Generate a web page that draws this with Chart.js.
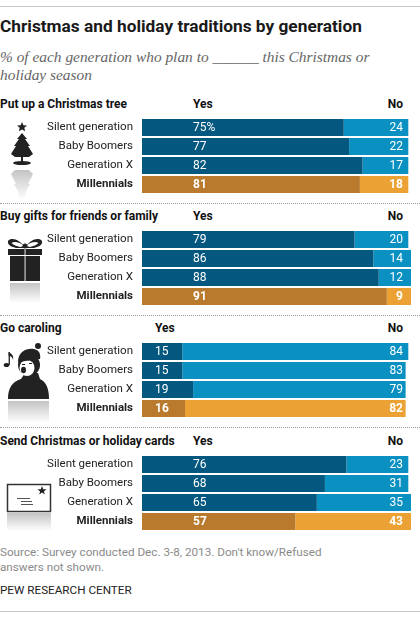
<!DOCTYPE html>
<html>
<head>
<meta charset="utf-8">
<script src="https://cdn.jsdelivr.net/npm/chart.js@4.4.1/dist/chart.umd.min.js"></script>
<style>
  body { margin: 0; background: #fff; }
  #page { position: relative; width: 420px; height: 618px; overflow: hidden; font-family: Roboto, "Liberation Sans", sans-serif; color: #222; }
  .abs { position: absolute; white-space: nowrap; }
  .title { left: 0; top: 16px; font-size: 17.3px; font-weight: bold; color: #1a1a1a; }
  .sub { left: 0; font-family: "Liberation Serif", serif; font-style: italic; font-size: 15.4px; color: #666; }
  .head { left: 0; font-size: 12px; font-weight: bold; color: #111; }
  .yn { font-size: 12px; font-weight: bold; color: #111; }
  .rule { position: absolute; left: 0; width: 420px; height: 0; }
  .dots { border-top: 1px dotted #9a9a9a; }
  .solid { border-top: 1px solid #c8c8c8; }
  .note { left: 0; font-size: 11.7px; color: #8a8a8a; }
  canvas { position: absolute; left: 0; }
  svg { position: absolute; left: 0; top: 0; }
</style>
</head>
<body>
<div id="page">
  <div class="rule solid" style="top:6px"></div>
  <div class="abs title">Christmas and holiday traditions by generation</div>
  <div class="abs sub" style="top:48px">% of each generation who plan to ______ this Christmas or</div>
  <div class="abs sub" style="top:66px">holiday season</div>

  <svg width="60" height="618" viewBox="0 0 60 618">
    <defs>
      <linearGradient id="fade" x1="0" y1="0" x2="0" y2="1">
        <stop offset="0" stop-color="#c4c4c4"/>
        <stop offset="1" stop-color="#ffffff"/>
      </linearGradient>
    </defs>
    <!-- tree -->
    <polygon fill="#222" points="22,122 23.4,125.2 27,125.5 24.3,127.8 25.1,131.3 22,129.5 18.9,131.3 19.7,127.8 17,125.5 20.6,125.2"/>
    <path fill="#222" d="M22,133 L27,139 L25,139 L30,146 L28,146 L33,154 L29,157 L15,157 L11,154 L16,146 L14,146 L19,139 L17,139 Z"/>
    <rect fill="#222" x="21" y="156" width="2" height="6"/>
    <ellipse fill="#222" cx="22" cy="163" rx="9" ry="2"/>
    <path fill="url(#fade)" d="M22,200 L27,193 L25,193 L30,184 L28,184 L33,174 L29,170 L15,170 L11,174 L16,184 L14,184 L19,193 L17,193 Z"/>
    <!-- gift -->
    <path fill="#222" d="M25,248 C20,239 11,237 8,241 C7,245 12,247 16,248 Z M25,248 C30,239 39,237 42,241 C43,245 38,247 34,248 Z"/>
    <path fill="#fff" d="M24,246 C20,242 14,241 11.5,243 C13,245 17,246 20,247 Z M26,246 C30,242 36,241 38.5,243 C37,245 33,246 30,247 Z"/>
    <circle fill="#222" cx="25" cy="246" r="2.5"/>
    <rect fill="#222" x="8" y="249" width="34" height="6"/>
    <rect fill="#222" x="10" y="256" width="30" height="25"/>
    <rect fill="#fff" x="24.6" y="249" width="0.9" height="32"/>
    <rect fill="url(#fade)" x="10" y="283" width="30" height="20"/>
    <!-- caroler -->
    <ellipse fill="#222" cx="6.5" cy="365" rx="2.8" ry="2.1"/>
    <rect fill="#222" x="8.6" y="352" width="1.3" height="13"/>
    <path fill="#222" d="M8.6,352 C12,354 14,356 13,360 C12.5,357 11,356 8.6,356 Z"/>
    <path fill="#222" d="M8,399 C8,388 12,382 21,379 L25,373 L38,373 L40,379 C46,382 49,388 49,399 Z"/>
    <circle fill="#222" cx="29" cy="365" r="11"/>
    <ellipse fill="#fff" cx="27" cy="368" rx="7.5" ry="8"/>
    <ellipse fill="#222" cx="23.5" cy="370" rx="2.5" ry="3.2"/>
    <rect fill="#222" x="22" y="364" width="3" height="1"/>
    <rect fill="#222" x="29" y="363" width="3" height="1"/>
    <path fill="#222" d="M18,362 C18,352 26,348 34,349 C39,350 41,354 40,359 Z"/>
    <circle fill="#fff" cx="38" cy="346" r="4"/>
    <circle fill="#222" cx="38" cy="346" r="3"/>
    <rect fill="url(#fade)" x="8" y="401" width="41" height="22"/>
    <!-- card -->
    <rect fill="#fff" stroke="#333" stroke-width="1.5" x="7.5" y="484.5" width="43" height="27"/>
    <polygon fill="#222" points="42,486 43.2,489.2 46.5,489.2 43.9,491.4 44.8,494.6 42,492.6 39.2,494.6 40.1,491.4 37.5,489.2 40.8,489.2"/>
    <rect fill="#555" x="17" y="498" width="13" height="1"/>
    <rect fill="#555" x="21" y="501" width="11" height="1"/>
    <rect fill="#555" x="21" y="504" width="12" height="1"/>
    <rect fill="url(#fade)" x="7" y="513" width="44" height="18"/>
  </svg>

  <div class="abs head" style="top:97px">Put up a Christmas tree</div>
  <div class="abs yn" style="left:193px;top:97px">Yes</div>
  <div class="abs yn" style="right:17px;top:97px">No</div>
  <canvas id="c0" width="420" height="76" style="top:118px"></canvas>

  <div class="rule dots" style="top:203px"></div>
  <div class="abs head" style="top:209px">Buy gifts for friends or family</div>
  <div class="abs yn" style="left:193px;top:209px">Yes</div>
  <div class="abs yn" style="right:17px;top:209px">No</div>
  <canvas id="c1" width="420" height="76" style="top:230px"></canvas>

  <div class="rule dots" style="top:315px"></div>
  <div class="abs head" style="top:321px">Go caroling</div>
  <div class="abs yn" style="left:155px;top:321px">Yes</div>
  <div class="abs yn" style="right:17px;top:321px">No</div>
  <canvas id="c2" width="420" height="76" style="top:342px"></canvas>

  <div class="rule dots" style="top:427px"></div>
  <div class="abs head" style="top:434px">Send Christmas or holiday cards</div>
  <div class="abs yn" style="left:193px;top:434px">Yes</div>
  <div class="abs yn" style="right:17px;top:434px">No</div>
  <canvas id="c3" width="420" height="76" style="top:455px"></canvas>

  <div class="abs note" style="top:545px">Source: Survey conducted Dec. 3-8, 2013. Don't know/Refused</div>
  <div class="abs note" style="top:560px">answers not shown.</div>
  <div class="abs note" style="top:583px;color:#222">PEW RESEARCH CENTER</div>
  <div class="rule solid" style="top:611px"></div>
</div>

<script>
const generations = ['Silent generation', 'Baby Boomers', 'Generation X', 'Millennials'];

const yesTree  = [75, 77, 82, 81];
const noTree   = [24, 22, 17, 18];
const yesGifts = [79, 86, 88, 91];
const noGifts  = [20, 14, 12, 9];
const yesCarol = [15, 15, 19, 16];
const noCarol  = [84, 83, 79, 82];
const yesCards = [76, 68, 65, 57];
const noCards  = [23, 31, 35, 43];

const DARK_BLUE = '#04587f', LIGHT_BLUE = '#0a91c2';
const DARK_ORANGE = '#b97a2d', LIGHT_ORANGE = '#eba134';

// value labels: Yes at a fixed column under the "Yes" header, No right-aligned under "No"
const valueLabels = {
  id: 'valueLabels',
  afterDatasetsDraw(chart, args, opts) {
    const ctx = chart.ctx;
    ctx.save();
    ctx.fillStyle = '#fff';
    ctx.textBaseline = 'middle';
    chart.data.datasets.forEach((ds, di) => {
      const meta = chart.getDatasetMeta(di);
      meta.data.forEach((bar, i) => {
        const bold = i === 3;
        ctx.font = (bold ? 'bold ' : '') + '12px Roboto, "Liberation Sans", sans-serif';
        let txt = String(ds.data[i]);
        if (di === 0 && i === 0 && opts.pct) txt += '%';
        if (di === 0) { ctx.textAlign = 'left'; ctx.fillText(txt, opts.yesX, bar.y + 0.5); }
        else { ctx.textAlign = 'right'; ctx.fillText(txt, 403, bar.y + 0.5); }
      });
    });
    ctx.restore();
  }
};

function drawPanel(id, yes, no, yesX, pct) {
  const colsYes = generations.map((g, i) => i === 3 ? DARK_ORANGE : DARK_BLUE);
  const colsNo = generations.map((g, i) => i === 3 ? LIGHT_ORANGE : LIGHT_BLUE);
  new Chart(document.getElementById(id), {
    type: 'bar',
    data: {
      labels: generations,
      datasets: [
        { label: 'Yes', data: yes, backgroundColor: colsYes, borderWidth: 0 },
        { label: 'No', data: no, backgroundColor: colsNo, borderWidth: 0 }
      ]
    },
    options: {
      indexAxis: 'y',
      responsive: false,
      animation: false,
      devicePixelRatio: 1,
      layout: { padding: { left: 0, right: 9, top: 0, bottom: 0 } },
      datasets: { bar: { categoryPercentage: 1, barPercentage: 17 / 19 } },
      scales: {
        x: { stacked: true, min: 0, max: 100, display: false },
        y: {
          stacked: true,
          grid: { display: false, drawTicks: false },
          border: { display: false },
          ticks: {
            padding: 9,
            color: '#222',
            font: c => ({ size: 11.5, family: 'Roboto, "Liberation Sans", sans-serif', weight: c.index === 3 ? 'bold' : 'normal' })
          },
          afterFit: s => { s.width = 142; s.paddingTop = 0; s.paddingBottom = 0; }
        }
      },
      plugins: {
        legend: { display: false },
        tooltip: { enabled: false },
        valueLabels: { yesX: yesX, pct: pct }
      }
    },
    plugins: [valueLabels]
  });
}

drawPanel('c0', yesTree, noTree, 193, true);
drawPanel('c1', yesGifts, noGifts, 193, false);
drawPanel('c2', yesCarol, noCarol, 155, false);
drawPanel('c3', yesCards, noCards, 193, false);
</script>
</body>
</html>
